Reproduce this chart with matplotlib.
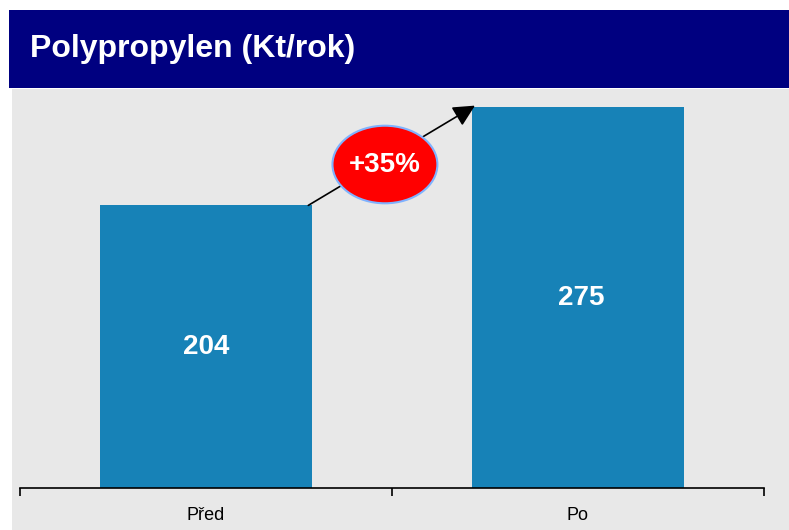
import matplotlib
matplotlib.use("Agg")
import matplotlib.pyplot as plt
from matplotlib.patches import Rectangle, Ellipse

plt.rcParams['font.family'] = ['Liberation Sans', 'DejaVu Sans']

title = 'Polypropylen (Kt/rok)'
categories = ['Před', 'Po']
values = [204, 275]
growth_label = '+35%'

bar_color = '#1782b7'
W, H = 789, 530

fig = plt.figure(figsize=(W / 100, H / 100), dpi=100)

# background panels
fig.patches.append(Rectangle((9 / W, 1 - 88 / H), 1, 78 / H, transform=fig.transFigure,
                             facecolor='#000080', edgecolor='none', zorder=-2))
fig.patches.append(Rectangle((12 / W, 0), 1, 1 - 89 / H, transform=fig.transFigure,
                             facecolor='#e8e8e8', edgecolor='none', zorder=-2))
fig.text(30 / W, 1 - 49 / H, title, color='white', fontsize=23, fontweight='bold',
         va='center', ha='left')

ax = fig.add_axes([20 / W, 42 / H, 744 / W, 399 / H])
ax.set_facecolor('none')
x = list(range(len(categories)))
bw = 0.57
ax.bar(x, values, width=bw, color=bar_color, zorder=2)
ax.set_xlim(-0.5, 1.5)
ax.set_ylim(0, 288)

for xi, v in zip(x, values):
    ax.text(xi + 0.008 * xi, v * 0.5, str(v), color='white', fontsize=20, fontweight='bold',
            ha='center', va='center', zorder=3)

for s in ['top', 'right', 'left']:
    ax.spines[s].set_visible(False)
ax.spines['bottom'].set_linewidth(1.2)
ax.set_yticks([])
ax.set_xticks([-0.5, 0.5, 1.5])
ax.set_xticklabels([])
ax.tick_params(axis='x', which='major', direction='out', length=6, width=1.2)
ax.set_xticks(x, minor=True)
ax.set_xticklabels(categories, minor=True, fontsize=13,
                   family=['Liberation Sans Narrow', 'Liberation Sans', 'DejaVu Sans'])
ax.tick_params(axis='x', which='minor', length=0, pad=14)

# growth arrow
ax.annotate('', xy=(1 - bw / 2 + 0.008, values[1] + 1), xytext=(bw / 2 - 0.01, values[0]),
            arrowprops=dict(arrowstyle='-|>,head_length=0.6,head_width=0.3', color='black',
                            lw=1.2, mutation_scale=22, shrinkA=0, shrinkB=0),
            zorder=4)
mid_y = (values[0] + values[1]) / 2 - 6
ax.add_patch(Ellipse((0.481, mid_y), 0.282, 56, facecolor='#ff0000', edgecolor='#7fb2ff',
                     lw=1.5, zorder=5))
ax.text(0.481, mid_y, growth_label, color='white', fontsize=20, fontweight='bold',
        ha='center', va='center', zorder=6)

fig.savefig('out.png', dpi=100)
